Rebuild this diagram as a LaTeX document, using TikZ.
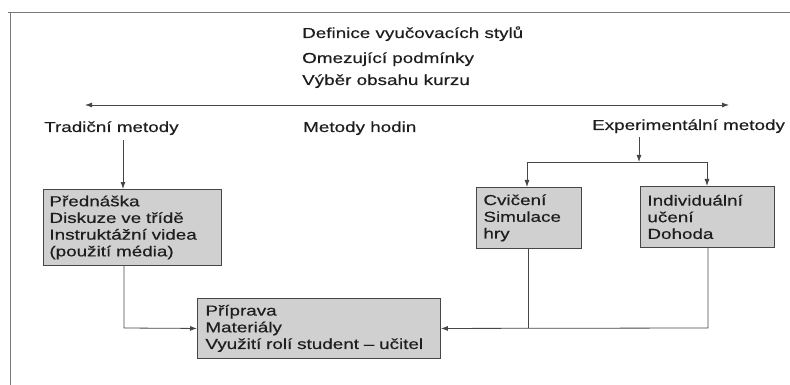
\documentclass[tikz,border=0pt]{standalone}
\usepackage{fontspec}
\setmainfont{Liberation Sans}[FakeStretch=1.3,FakeBold=0.4]
\usetikzlibrary{arrows.meta}
\definecolor{boxfill}{RGB}{208,208,208}
\definecolor{linec}{RGB}{70,70,70}
\definecolor{framec}{RGB}{120,120,120}
\definecolor{txt}{RGB}{30,30,30}
\begin{document}
\begin{tikzpicture}[x=1pt,y=-1pt,
  every node/.style={font=\fontsize{14.5}{16.7}\selectfont, text=txt},
  lbl/.style={anchor=base west, inner sep=0pt},
  box/.style={draw=linec, fill=boxfill, line width=0.9pt, anchor=north west, align=left, inner ysep=0pt},
  arr/.style={draw=linec, line width=0.8pt, -{Latex[length=7pt,width=5pt]}},
  dblarr/.style={draw=linec, line width=0.8pt, {Latex[length=7pt,width=5pt]}-{Latex[length=7pt,width=5pt]}},
  conn/.style={draw=linec, line width=0.8pt}]
\useasboundingbox (0,0) rectangle (790,385);
% frame
\draw[draw=framec, line width=1pt] (8,13) -- (790,13);
\draw[draw=framec, line width=1pt] (10,13) -- (10,385);
% title lines
\node[lbl] (t1) at (302,38) {Definice vyučovacích stylů};
\node[lbl] (t2) at (302,63) {Omezující podmínky};
\node[lbl] (t3) at (302,85) {Výběr obsahu kurzu};
% main double arrow
\coordinate (al) at (85,105);
\coordinate (ar) at (729,105);
\draw[dblarr] (al) -- (ar);
% method labels
\node[lbl] (trad) at (44,132) {Tradiční metody};
\node[lbl] (hod) at (303,132) {Metody hodin};
\node[lbl] (exp) at (592,130) {Experimentální metody};
% boxes
\node[box, inner xsep=6pt, text width=166pt, minimum height=76pt] (lb) at (43,189)
  {Přednáška\\Diskuze ve třídě\\Instruktážní videa\\(použití média)};
\node[box, inner xsep=8pt, text width=227pt, minimum height=60pt] (bb) at (197,298)
  {Příprava\\Materiály\\Využití rolí student – učitel};
\node[box, inner xsep=7pt, text width=91pt, minimum height=61pt] (cb) at (476,187)
  {Cvičení\\Simulace\\hry};
\node[box, inner xsep=7pt, text width=120pt, minimum height=61pt] (ib) at (640,186)
  {Individuální\\učení\\Dohoda};
% connectors
\coordinate (ta) at (123,140);
\draw[arr] (ta) -- (lb.north -| ta);
\coordinate (ea) at (639,137);
\coordinate (sp) at (639,162);
\draw[arr] (ea) -- (sp);
\coordinate (hl) at (527,162);
\coordinate (hr) at (707,162);
\draw[conn] (hl) -- (hr);
\draw[arr] (hl) -- (cb.north -| hl);
\draw[arr] (hr) -- (ib.north -| hr);
\coordinate (lbx) at (124,328);
\draw[arr] (lb.south -| lbx) -- (lbx) -- (bb.west);
\coordinate (cbx) at (528,328);
\coordinate (ibx) at (708,328);
\draw[conn] (cb.south -| cbx) -- (cbx);
\draw[arr] (ib.south -| ibx) -- (ibx) -- (bb.east);
\end{tikzpicture}
\end{document}
